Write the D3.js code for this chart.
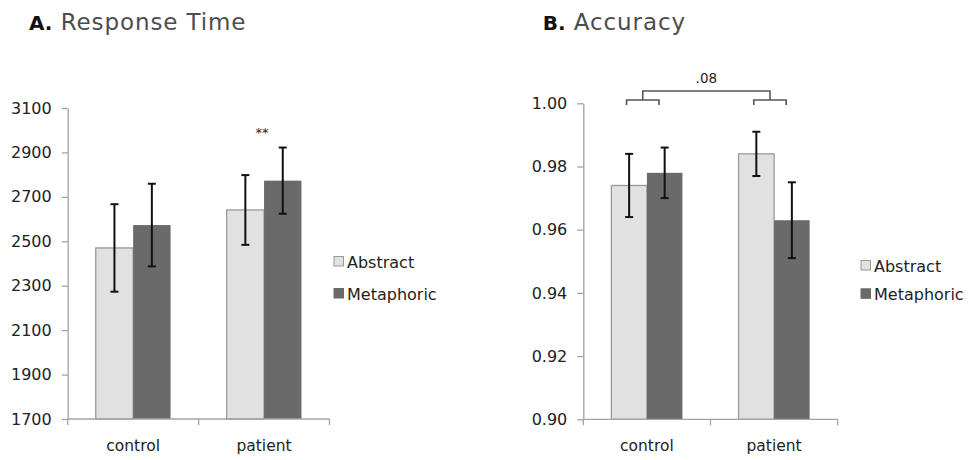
<!DOCTYPE html>
<html>
<head>
<meta charset="utf-8">
<script src="https://cdn.jsdelivr.net/npm/d3@7"></script>
<style>
  body { margin: 0; background: #fff; }
  svg { display: block; font-family: "DejaVu Sans", sans-serif; }
  .axis path, .axis line { stroke: #a3a3a3; stroke-width: 1.3; }
</style>
</head>
<body>
<div id="wrapper"></div>
<script>
// data
const categories = ["control", "patient"];
const series = ["Abstract", "Metaphoric"];

const rtAbstract = [2470, 2641];
const rtMetaphoric = [2573, 2773];
const rtAbstractErr = [197, 157];
const rtMetaphoricErr = [186, 149];
const rtTicks = [1700, 1900, 2100, 2300, 2500, 2700, 2900, 3100];

const accAbstract = [0.974, 0.984];
const accMetaphoric = [0.978, 0.963];
const accAbstractErr = [0.010, 0.007];
const accMetaphoricErr = [0.008, 0.012];
const accTicks = [0.90, 0.92, 0.94, 0.96, 0.98, 1.00];

const colors = { Abstract: "#e1e1e1", Metaphoric: "#6a6a6a" };

const width = 968, height = 460;

const svg = d3.select("#wrapper")
  .append("svg")
  .attr("width", width)
  .attr("height", height);

function drawPanel(opt) {
  const y = d3.scaleLinear().domain(opt.domain).range([opt.bottom, opt.top]);
  const x = d3.scaleBand().domain(categories).range([opt.left, opt.right]);
  const xs = d3.scaleBand().domain(series).range([0, x.bandwidth()]).paddingOuter(opt.pad);

  // title
  const title = svg.append("text")
    .attr("x", opt.titleX)
    .attr("y", 29.5)
    .style("font-size", "23px");
  title.append("tspan").attr("font-weight", "bold").attr("fill", "#111").style("font-size", "20px").text(opt.letter);
  title.append("tspan").attr("fill", "#4d4d4d").attr("letter-spacing", "0.9px").text(" " + opt.title);

  // rows of data
  const rows = [];
  categories.forEach((c, i) => {
    rows.push({ cat: c, s: "Abstract", v: opt.a[i], e: opt.ae[i] });
    rows.push({ cat: c, s: "Metaphoric", v: opt.m[i], e: opt.me[i] });
  });

  const g = svg.append("g");

  // bars
  g.selectAll(".bar")
    .data(rows)
    .enter().append("rect")
    .attr("class", "bar")
    .attr("x", d => x(d.cat) + xs(d.s))
    .attr("width", xs.bandwidth())
    .attr("y", d => y(d.v))
    .attr("height", d => y(opt.domain[0]) - y(d.v))
    .attr("fill", d => colors[d.s])
    .attr("stroke", d => d.s == "Abstract" ? "#9a9a9a" : "none")
    .attr("stroke-width", 1.3);

  // y axis
  g.append("g")
    .attr("class", "axis")
    .attr("transform", `translate(${opt.left},0)`)
    .call(d3.axisLeft(y).tickValues(opt.ticks).tickFormat(opt.fmt).tickSize(6).tickSizeOuter(0).tickPadding(10))
    .attr("font-family", null)
    .attr("font-size", null)
    .call(a => a.selectAll("text").attr("fill", "#222").style("font-size", "16px"));

  // x axis
  const xa = g.append("g").attr("class", "axis");
  xa.append("line")
    .attr("x1", opt.left).attr("x2", opt.right)
    .attr("y1", y(opt.domain[0])).attr("y2", y(opt.domain[0]));
  const edges = categories.map(c => x(c)).concat([x(categories[1]) + x.bandwidth()]);
  xa.selectAll(".xt")
    .data(edges)
    .enter().append("line")
    .attr("x1", d => d).attr("x2", d => d)
    .attr("y1", y(opt.domain[0])).attr("y2", y(opt.domain[0]) + 6);
  xa.selectAll(".xl")
    .data(categories)
    .enter().append("text")
    .attr("x", d => x(d) + x.bandwidth() / 2)
    .attr("y", 451)
    .attr("text-anchor", "middle")
    .attr("fill", "#222")
    .style("font-size", "15.5px")
    .text(d => d);

  // error bars
  const eb = g.selectAll(".err")
    .data(rows)
    .enter().append("g")
    .attr("stroke", "#111")
    .attr("stroke-width", 2);
  const cx = d => x(d.cat) + xs(d.s) + xs.bandwidth() / 2;
  eb.append("line")
    .attr("x1", cx).attr("x2", cx)
    .attr("y1", d => y(d.v + d.e)).attr("y2", d => y(d.v - d.e));
  [1, -1].forEach(sign => {
    eb.append("line")
      .attr("x1", d => cx(d) - 4).attr("x2", d => cx(d) + 4)
      .attr("y1", d => y(d.v + sign * d.e)).attr("y2", d => y(d.v + sign * d.e));
  });

  // legend
  const lg = svg.append("g")
    .attr("transform", `translate(${opt.legendX},${opt.legendY})`);
  series.forEach((s, i) => {
    lg.append("rect")
      .attr("x", 0).attr("y", i * opt.legendStep - 9.5)
      .attr("width", 9.5).attr("height", 9.5)
      .attr("fill", colors[s])
      .attr("stroke", s == "Abstract" ? "#999" : colors[s])
      .attr("stroke-width", 1);
    lg.append("text")
      .attr("x", 13).attr("y", i * opt.legendStep + 2)
      .attr("fill", "#222")
      .style("font-size", "16px")
      .text(s);
  });

  return { x, xs, y, g };
}

const A = drawPanel({
  letter: "A.", title: "Response Time", titleX: 29,
  domain: [1700, 3100], ticks: rtTicks, fmt: d3.format("d"),
  top: 108, bottom: 419, left: 67.7, right: 329.5, pad: 0.75,
  a: rtAbstract, m: rtMetaphoric, ae: rtAbstractErr, me: rtMetaphoricErr,
  legendX: 334, legendY: 266, legendStep: 32
});

const B = drawPanel({
  letter: "B.", title: "Accuracy", titleX: 542.7,
  domain: [0.90, 1.00], ticks: accTicks, fmt: d3.format(".2f"),
  top: 103.3, bottom: 419.3, left: 583.3, right: 837.7, pad: 0.79,
  a: accAbstract, m: accMetaphoric, ae: accAbstractErr, me: accMetaphoricErr,
  legendX: 861, legendY: 270, legendStep: 28.3
});

// significance marks
svg.append("text")
  .attr("x", A.x("patient") + A.x.bandwidth() / 2 - 2)
  .attr("y", 137)
  .attr("text-anchor", "middle")
  .attr("fill", "#222")
  .style("font-size", "13px")
  .text("**");

const br = B.g.append("g")
  .attr("fill", "none")
  .attr("stroke", "#555")
  .attr("stroke-width", 1.6);
const smallL = c => B.x(c) + B.x.bandwidth() * 0.34;
const smallR = c => B.x(c) + B.x.bandwidth() * 0.595;
const mid = c => (smallL(c) + smallR(c)) / 2;
categories.forEach(c => {
  br.append("path")
    .attr("d", `M${smallL(c)},105V100H${smallR(c)}V105`);
});
br.append("path")
  .attr("d", `M${mid(categories[0])},100V91H${mid(categories[1])}V100`);
svg.append("text")
  .attr("x", (mid(categories[0]) + mid(categories[1])) / 2)
  .attr("y", 83.3)
  .attr("text-anchor", "middle")
  .attr("fill", "#222")
  .style("font-size", "13.5px")
  .text(".08");
</script>
</body>
</html>
